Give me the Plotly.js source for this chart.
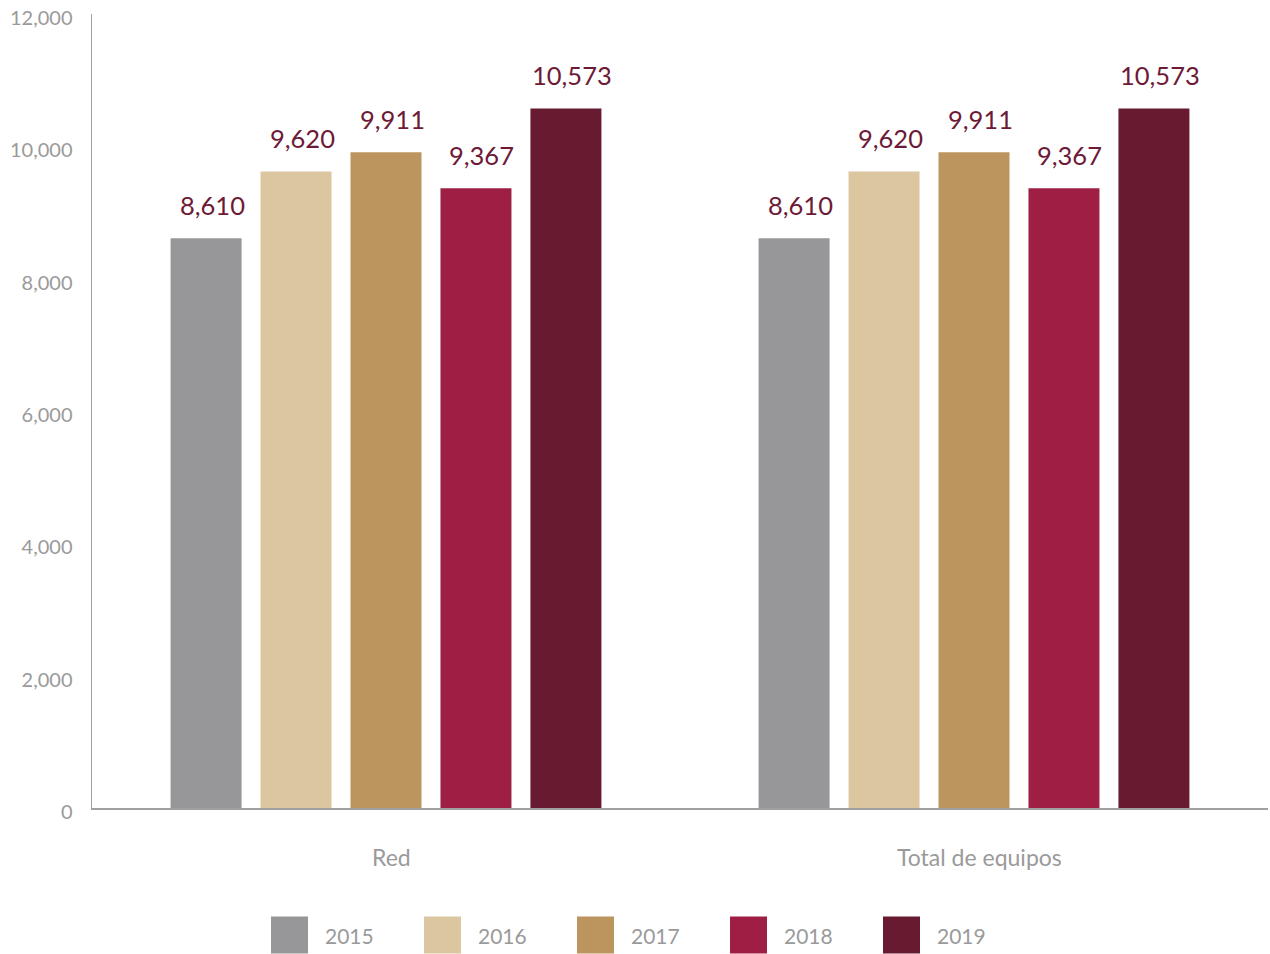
<!DOCTYPE html>
<html>
<head>
<meta charset="utf-8">
<script src="https://cdn.plot.ly/plotly-3.0.1.min.js"></script>
<style>html,body{margin:0;padding:0;background:#fff;}#chart{width:1270px;height:954px;}</style>
</head>
<body>
<div id="chart"></div>
<script>
const categories = ["Red", "Total de equipos"];
const years = ["2015", "2016", "2017", "2018", "2019"];
const v2015 = [8610, 8610];
const v2016 = [9620, 9620];
const v2017 = [9911, 9911];
const v2018 = [9367, 9367];
const v2019 = [10573, 10573];
const yTicks = [0, 2000, 4000, 6000, 8000, 10000, 12000];
const yTickText = ["0", "2,000", "4,000", "6,000", "8,000", "10,000", "12,000"];

const series = [v2015, v2016, v2017, v2018, v2019];
const colors = ["#979698", "#dcc69f", "#bb945e", "#9e1f43", "#671a30"];
const labelColor = "#6d1a36";
const FONT = "Lato, 'Open Sans', sans-serif";
const bargap = 0.235;
const slot = (1 - bargap) / years.length;
const T = 14, B = 146, H = 954 - T - B;

const fmt = v => v.toLocaleString("en-US");

const traces = series.map((vals, i) => ({
  type: "bar",
  name: years[i],
  x: categories,
  y: vals,
  marker: {color: colors[i]},
  hoverinfo: "skip",
  showlegend: false
}));

const annotations = [];
series.forEach((vals, i) => {
  vals.forEach((v, j) => {
    annotations.push({
      x: j + (i - (years.length - 1) / 2) * slot,
      y: v, xref: "x", yref: "y",
      text: fmt(v), showarrow: false,
      yanchor: "bottom", yshift: 16, xshift: 6,
      font: {family: FONT, size: 25.5, color: labelColor}
    });
  });
});

// category labels
categories.forEach((c, j) => {
  annotations.push({
    x: j, y: 0, xref: "x", yref: "y",
    text: c, showarrow: false,
    yanchor: "middle", yshift: -49, xshift: 5,
    font: {family: FONT, size: 23, color: "#9a9a9a"}
  });
});

// custom legend
const shapes = [];
const legX0 = 271, legStep = 153, legY = 935, sq = 37;
years.forEach((yr, i) => {
  const x0 = (legX0 + i * legStep - 92) / 1176;
  shapes.push({
    type: "rect", xref: "paper", yref: "paper",
    x0: x0, x1: x0 + sq / 1176,
    y0: -(legY + sq / 2 - 808) / H, y1: -(legY - sq / 2 - 808) / H,
    fillcolor: colors[i], line: {width: 0}
  });
  annotations.push({
    xref: "paper", yref: "paper",
    x: (legX0 + i * legStep + sq + 15 - 92) / 1176,
    y: -(legY - 808) / H,
    xanchor: "left", yanchor: "middle",
    text: yr, showarrow: false,
    font: {family: FONT, size: 21, color: "#9a9a9a"}
  });
});

const layout = {
  width: 1270, height: 954,
  margin: {l: 92, r: 2, t: T, b: B},
  paper_bgcolor: "#fff", plot_bgcolor: "#fff",
  barmode: "group", bargap: bargap, bargroupgap: 0.211,
  showlegend: false,
  font: {family: FONT, color: "#9a9a9a"},
  xaxis: {
    type: "category", range: [-0.5, 1.5],
    showline: true, linecolor: "#a0a0a0", linewidth: 1.5,
    ticks: "", showgrid: false, zeroline: false,
    showticklabels: false
  },
  yaxis: {
    range: [0, 12000], tickvals: yTicks, ticktext: yTickText,
    showline: true, linecolor: "#a0a0a0", linewidth: 1.5,
    ticks: "", showgrid: false, zeroline: false,
    tickfont: {family: FONT, size: 20, color: "#9a9a9a"},
    ticklabelstandoff: 14, ticklabelshift: 4
  },
  annotations: annotations,
  shapes: shapes
};

Plotly.newPlot("chart", traces, layout, {displayModeBar: false, staticPlot: true});
</script>
</body>
</html>
